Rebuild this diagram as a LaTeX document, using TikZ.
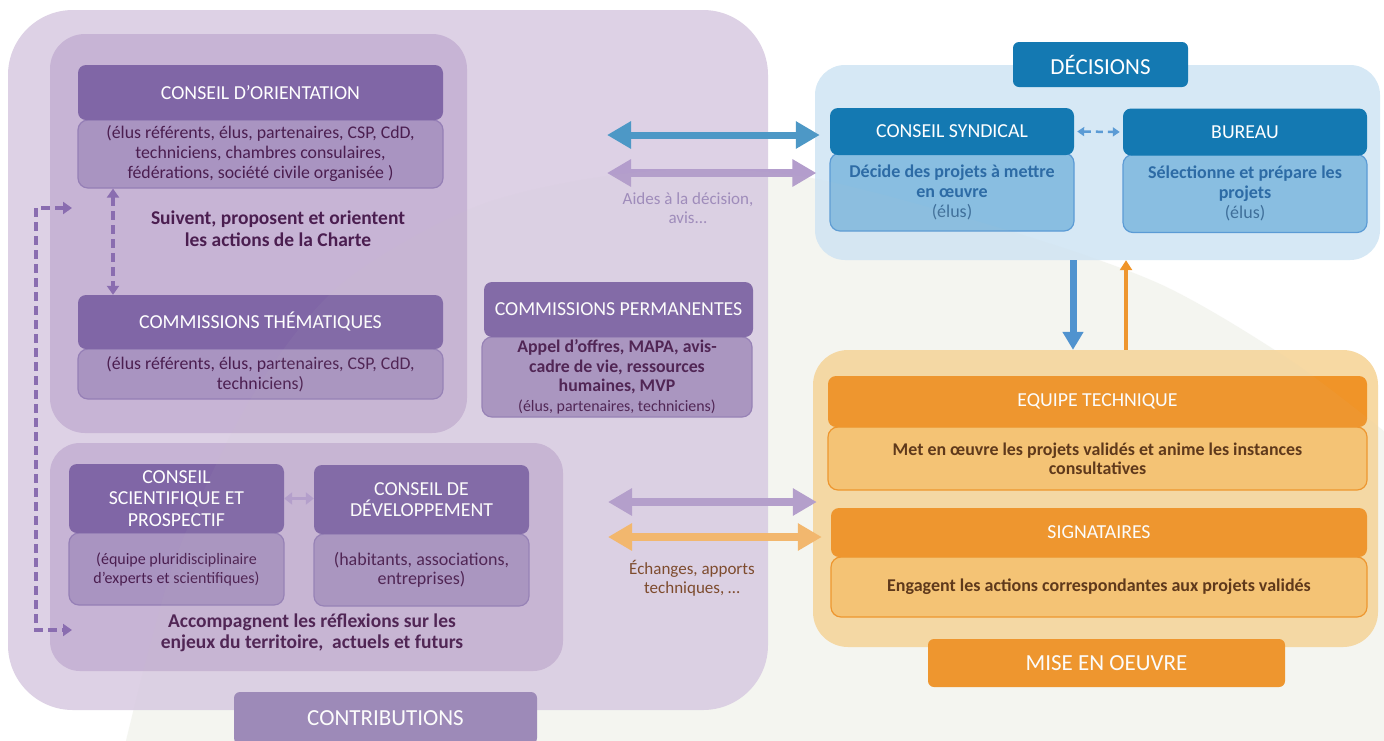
\documentclass[tikz,border=0pt]{standalone}
\usepackage{fontspec}
\setmainfont{Carlito}
\usetikzlibrary{arrows.meta}
\definecolor{violeta}{HTML}{8066A6}
\definecolor{violetb}{HTML}{A994C1}
\definecolor{violetc}{HTML}{957FB6}
\definecolor{violetg}{HTML}{C7B4D5}
\definecolor{violetf}{HTML}{DDD1E5}
\definecolor{violetk}{HTML}{9B87B8}
\definecolor{violetl}{HTML}{B39DCC}
\definecolor{violetd}{HTML}{8A6DB0}
\definecolor{prune}{HTML}{4B1E50}
\definecolor{aidetxt}{HTML}{9D89BB}
\definecolor{bleua}{HTML}{1479B2}
\definecolor{bleub}{HTML}{89BEE1}
\definecolor{bleuc}{HTML}{5B9BD5}
\definecolor{bleuf}{HTML}{D6E8F5}
\definecolor{bleut}{HTML}{2D6BA5}
\definecolor{bleue}{HTML}{3F6F9A}
\definecolor{bleul}{HTML}{4D98C6}
\definecolor{bleuv}{HTML}{4A90D0}
\definecolor{orangea}{HTML}{F09428}
\definecolor{orangeb}{HTML}{F7C372}
\definecolor{orangef}{HTML}{F7D9A3}
\definecolor{orangel}{HTML}{F5B66A}
\definecolor{brun}{HTML}{5A3213}
\definecolor{brunb}{HTML}{7A4527}
\definecolor{fond}{HTML}{F7F8F3}
\definecolor{voile}{HTML}{C9CCC0}
\tikzset{grp/.append style={inner sep=0pt}}
\tikzset{hd/.append style={rounded corners=8pt, inner sep=0pt, align=center, text=white, font=\fontsize{19.8}{21.5}\selectfont}}
\tikzset{sb/.append style={rounded corners=10pt, inner sep=0pt, align=center, line width=1.2pt, font=\fontsize{17.8}{20}\selectfont}}
\tikzset{ttl/.append style={rounded corners=6pt, inner sep=0pt, text=white, font=\fontsize{23}{26}\selectfont}}
\tikzset{big/.append style={line width=8pt, arrows={Triangle[width=26pt,length=24pt]-Triangle[width=26pt,length=24pt]}}}
\tikzset{dsh/.append style={line width=3.5pt, dash pattern=on 9pt off 5pt, arrows={Triangle[width=12pt,length=9pt]-Triangle[width=12pt,length=9pt]}}}

\begin{document}
\begin{tikzpicture}[x=1pt,y=-1pt]
                \useasboundingbox (0,0) rectangle (1384,740);
                \clip (0,0) rectangle (1384,740);
                \fill[white] (0,0) rectangle (1384,740);
                \fill[fond] plot[smooth] coordinates {(125,745) (175,560) (250,400) (340,285) (480,205) (640,172) (800,176) (1000,228) (1160,284) (1290,360) (1390,436)} -- (1390,745) -- cycle;
                % groupes
                \node[grp, fill=violetf, rounded corners=65pt, minimum width=760pt, minimum height=700pt] (pgrp) at (388,360) {};
                \node[grp, fill=violetg, rounded corners=35pt, minimum width=417pt, minimum height=399pt] (hgrp) at (258.5,233.5) {};
                \node[grp, fill=violetg, rounded corners=30pt, minimum width=513pt, minimum height=228pt] (lgrp) at (306.5,557) {};
                \node[grp, fill=bleuf, rounded corners=30pt, minimum width=565pt, minimum height=195pt] (decg) at (1097.5,162.5) {};
                \node[grp, fill=orangef, rounded corners=35pt, minimum width=565pt, minimum height=297pt] (mog) at (1095.5,498.5) {};
                % contributions
                \node[sb, fill=violetb, draw=violetc, text=prune, minimum width=365pt, minimum height=68pt] (cos) at (260.5,154) {(élus référents, élus, partenaires, CSP, CdD,\\techniciens, chambres consulaires,\\fédérations, société civile organisée )};
                \node[hd, fill=violeta, minimum width=365pt, minimum height=55pt] (co) at (260.5,92.5) {CONSEIL D'ORIENTATION};
                \node[text=prune, align=center, font=\bfseries\fontsize{19.5}{22}\selectfont] (suiv) at (278,229) {Suivent, proposent et orientent\\les actions de la Charte};
                \node[sb, fill=violetb, draw=violetc, text=prune, minimum width=365pt, minimum height=50pt] (cts) at (260.5,374) {(élus référents, élus, partenaires, CSP, CdD,\\techniciens)};
                \node[hd, fill=violeta, minimum width=365pt, minimum height=54pt] (ct) at (260.5,322) {COMMISSIONS THÉMATIQUES};
                \node[sb, fill=violetb, draw=violetc, text=prune, minimum width=270pt, minimum height=80pt, font=\bfseries\fontsize{17.8}{19.5}\selectfont] (cps) at (617,377) {Appel d'offres, MAPA, avis-\\cadre de vie, ressources\\humaines, MVP\\{\mdseries\fontsize{15.9}{19.5}\selectfont (élus, partenaires, techniciens)}};
                \node[hd, fill=violeta, minimum width=269pt, minimum height=55pt] (cp) at (618.5,309.5) {COMMISSIONS PERMANENTES};
                \node[sb, fill=violetb, draw=violetc, text=prune, minimum width=215pt, minimum height=72pt, font=\fontsize{16}{19}\selectfont] (css) at (176.5,569) {(équipe pluridisciplinaire\\d'experts et scientifiques)};
                \node[hd, fill=violeta, minimum width=215pt, minimum height=69pt] (cs) at (176.5,498.5) {CONSEIL\\SCIENTIFIQUE ET\\PROSPECTIF};
                \node[sb, fill=violetb, draw=violetc, text=prune, minimum width=215pt, minimum height=72pt, font=\fontsize{18}{19.5}\selectfont] (cds) at (421.5,570) {(habitants, associations,\\entreprises)};
                \node[hd, fill=violeta, minimum width=215pt, minimum height=69pt] (cd) at (421.5,499.5) {CONSEIL DE\\DÉVELOPPEMENT};
                \node[text=prune, align=center, font=\bfseries\fontsize{19.5}{21}\selectfont] (acc) at (312,633) {Accompagnent les réflexions sur les\\enjeux du territoire,\ \ actuels et futurs};
                \node[ttl, fill=violetk, minimum width=303pt, minimum height=52pt] (contr) at (385.5,718) {CONTRIBUTIONS};
                % decisions
                \node[ttl, fill=bleua, minimum width=175pt, minimum height=45pt] (dec) at (1100.5,64.5) {DÉCISIONS};
                \node[sb, fill=bleub, draw=bleuc, text=bleut, minimum width=244pt, minimum height=78pt, font=\bfseries\fontsize{18}{20}\selectfont] (cnss) at (952,192) {Décide des projets à mettre\\en œuvre\\{\mdseries\color{bleue}(élus)}};
                \node[hd, fill=bleua, minimum width=244pt, minimum height=47pt] (cns) at (952,131.5) {CONSEIL SYNDICAL};
                \node[sb, fill=bleub, draw=bleuc, text=bleut, minimum width=244pt, minimum height=78pt, font=\bfseries\fontsize{18}{20}\selectfont] (burs) at (1245,193.5) {Sélectionne et prépare les\\projets\\{\mdseries\color{bleue}(élus)}};
                \node[hd, fill=bleua, minimum width=244pt, minimum height=47pt] (bur) at (1245,132) {BUREAU};
                % mise en oeuvre
                \node[sb, fill=orangeb, draw=orangea, text=brun, minimum width=539pt, minimum height=63pt, font=\bfseries\fontsize{17.9}{19}\selectfont] (eqs) at (1097.5,458.5) {Met en œuvre les projets validés et anime les instances\\consultatives};
                \node[hd, fill=orangea, minimum width=539pt, minimum height=51pt] (eq) at (1097.5,401.5) {EQUIPE TECHNIQUE};
                \node[sb, fill=orangeb, draw=orangea, text=brun, minimum width=536pt, minimum height=60pt, font=\bfseries\fontsize{18}{19}\selectfont] (sigs) at (1099,587) {Engagent les actions correspondantes aux projets validés};
                \node[hd, fill=orangea, minimum width=536pt, minimum height=49pt] (sig) at (1099,532.5) {SIGNATAIRES};
                \node[ttl, fill=orangea, minimum width=357pt, minimum height=48pt] (mise) at (1106.5,663) {MISE EN OEUVRE};
                % fleches
                \coordinate (g1) at (607,135);
                \coordinate (g2) at (607,173);
                \coordinate (g3) at (608,502);
                \coordinate (g4) at (608,537);
                \coordinate (d1) at (72,208);
                \coordinate (d2) at (72,630);
                \draw[big, draw=bleul, line width=7pt, shorten >=10pt] (g1) -- (g1 -| cns.west);
                \draw[big, draw=violetl, shorten >=13pt] (g2) -- (g2 -| cnss.west);
                \draw[big, draw=violetl, shorten >=14pt] (g3) -- (g3 -| sig.west);
                \draw[big, draw=orangel, shorten >=9pt] (g4) -- (g4 -| sig.west);
                \node[text=aidetxt, align=center, font=\fontsize{17}{19}\selectfont] (aide) at (688,208) {Aides à la décision,\\avis...};
                \node[text=brunb, align=center, font=\fontsize{17}{19}\selectfont] (ech) at (692,578) {Échanges, apports\\techniques, …};
                \draw[dsh, draw=violetd] ([xshift=-147.5pt]cos.south) -- ([xshift=-147.5pt]cos.south |- ct.north);
                \draw[dsh, draw=violetd] (d1) -- ++(-36,0) |- (d2);
                \draw[draw=violetl, line width=3pt, arrows={Triangle[width=12pt,length=8pt]-Triangle[width=12pt,length=8pt]}] (cs.east) -- (cs.east -| cd.west);
                \draw[draw=bleuc, line width=2.5pt, dash pattern=on 7pt off 5pt, arrows={Triangle[width=9pt,length=7pt]-Triangle[width=9pt,length=7pt]}, shorten <=3pt, shorten >=3pt] (cns.east) -- (bur.west);
                \draw[draw=bleuv, line width=7pt, arrows={-Triangle[width=20pt,length=18pt]}] ([xshift=-24.5pt]decg.south) -- ([xshift=-24.5pt]decg.south |- mog.north);
                \draw[draw=orangea, line width=3.5pt, arrows={-Triangle[width=12pt,length=10pt]}] ([xshift=28.5pt]decg.south |- mog.north) -- ([xshift=28.5pt]decg.south);
                % voile
                \fill[voile, opacity=0.05] plot[smooth] coordinates {(125,745) (175,560) (250,400) (340,285) (480,205) (640,172) (800,176) (1000,228) (1160,284) (1290,360) (1390,436)} -- (1390,745) -- cycle;
\end{tikzpicture}
\end{document}
